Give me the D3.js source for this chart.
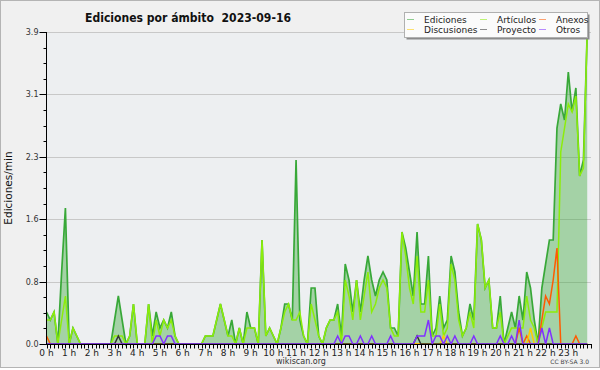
<!DOCTYPE html>
<html>
<head>
<meta charset="utf-8">
<script src="https://cdn.jsdelivr.net/npm/d3@7"></script>
<style>
  body { margin: 0; background: #ffffff; }
  svg { display: block; font-family: "DejaVu Sans", sans-serif; }
</style>
</head>
<body>
<svg id="chart" width="600" height="370"></svg>
<script>
// 10-minute slots over the day (144 per series), edits per minute
const hourLabels = d3.range(24).map(h => `${h} h`);
const yTicks = [0, 0.78, 1.56, 2.34, 3.12, 3.9];

const ediciones = [
  0.4,0.3,0.4,0,0.9,1.7,0,0.2,0.1,0, 0,0,0,0,0,0,0,0,0.3,0.6,
  0.3,0,0.1,0.5,0,0,0,0.5,0.1,0.4, 0.2,0.3,0.2,0.4,0.1,0,0,0,0,0,
  0,0,0.1,0.1,0.1,0.3,0.5,0.3,0.1,0.3, 0,0.2,0,0.4,0.2,0.2,0,1.3,0.1,0.2,
  0.1,0,0.2,0.5,0.5,0.3,2.3,0.3,0.1,0, 0.7,0.7,0.1,0,0.2,0.3,0.3,0.5,0.1,1.0,
  0.8,0.4,0.8,0.4,0.8,1.1,0.8,0.6,0.8,0.9, 0.8,0.2,0.2,0.1,1.4,1.2,0.9,0.6,1.4,0.5,
  0.5,1.1,0.1,0.2,0.6,0.2,0.3,1.1,0.9,0.4, 0.1,0.2,0.5,0.3,1.5,1.3,0.7,0.8,0.2,0.2,
  0.6,0,0.2,0.4,0.2,0.6,0.3,0.9,0.7,0.3, 0,0.7,1.0,1.3,1.3,2.7,3.0,2.8,3.4,2.9,
  3.2,2.1,2.3,3.9
];
const articulos = [
  0.3,0.3,0.4,0,0.3,0.6,0,0.2,0.1,0, 0,0,0,0,0,0,0,0,0.1,0.1,
  0.1,0,0.1,0.5,0,0,0,0.5,0,0.3, 0.1,0.3,0.2,0.3,0.1,0,0,0,0,0,
  0,0,0.1,0.1,0.1,0.3,0.5,0.3,0.1,0.1, 0,0.2,0,0.2,0.2,0.2,0,1.3,0.1,0.2,
  0.1,0,0.2,0.4,0.5,0.3,0.3,0.4,0.1,0, 0.5,0.3,0.1,0,0.2,0.3,0.3,0.4,0,0.8,
  0.6,0.3,0.8,0.3,0.6,0.9,0.4,0.5,0.7,0.8, 0.7,0.2,0.1,0.1,1.4,1.1,0.7,0.5,1.1,0.4,
  0.4,0.8,0.1,0.1,0.5,0.1,0.2,1.0,0.8,0.3, 0.1,0.2,0.4,0.2,1.5,1.3,0.7,0.8,0.2,0.2,
  0.4,0,0.1,0.2,0.2,0.2,0.2,0.6,0.3,0.2, 0,0.2,0.4,0.4,0.4,0.4,2.4,2.7,3.0,2.9,
  3.1,2.1,2.2,3.9
];
const anexos = new Array(144).fill(0);
[[0,0.1],[125,0.2],[127,0.1],[131,0.3],[132,0.6],[133,0.5],[134,0.8],[135,1.2],[140,0.1]]
  .forEach(([i, v]) => { anexos[i] = v; });
const discusiones = new Array(144).fill(0);
[[105,0.1],[128,0.2]].forEach(([i, v]) => { discusiones[i] = v; });
const proyecto = new Array(144).fill(0);
[[19,0.1],[98,0.1]].forEach(([i, v]) => { proyecto[i] = v; });
const otros = new Array(144).fill(0);
[[29,0.1],[30,0.1],[32,0.1],[33,0.1],[77,0.1],[79,0.1],[80,0.1],[83,0.1],[86,0.1],[91,0.1],
 [98,0.1],[99,0.1],[100,0.1],[101,0.3],[103,0.1],[104,0.1],[106,0.1],[108,0.1],[113,0.1],
 [120,0.1],[123,0.1],[125,0.3],[131,0.2],[133,0.2]].forEach(([i, v]) => { otros[i] = v; });

const colors = {
  ediciones: '#38a838',
  articulos: '#8ced0a',
  anexos: '#ff5a00',
  discusiones: '#ffcc00',
  proyecto: '#333333',
  otros: '#8030ff'
};

const svg = d3.select('#chart');
const margin = { top: 32, right: 9, bottom: 26, left: 46 };
const W = 600, H = 370;
const plotW = W - margin.left - margin.right;
const plotH = H - margin.top - margin.bottom;

// background + frame
svg.append('rect').attr('x', 0.5).attr('y', 0.5).attr('width', W - 1).attr('height', H - 3)
  .attr('fill', '#f0f0f0').attr('stroke', '#b4b4b4');

const x = d3.scaleLinear().domain([0, 144]).range([margin.left + 0.5, margin.left + plotW]);
const y = d3.scaleLinear().domain([0, 3.9]).range([margin.top + plotH, margin.top]);

svg.append('rect')
  .attr('x', margin.left).attr('y', margin.top)
  .attr('width', plotW).attr('height', plotH)
  .attr('fill', '#edeff1');

// grid
svg.append('g').selectAll('line').data(yTicks.slice(1)).join('line')
  .attr('x1', margin.left).attr('x2', margin.left + plotW)
  .attr('y1', d => Math.round(y(d)) + 0.5).attr('y2', d => Math.round(y(d)) + 0.5)
  .attr('stroke', '#c8c8c8');

// series
const line = d3.line().x((d, i) => x(i)).y(d => y(d));
const area = d3.area().x((d, i) => x(i)).y0(y(0)).y1(d => y(d));

svg.append('path').datum(ediciones).attr('d', area)
  .attr('fill', colors.ediciones).attr('fill-opacity', 0.4);
svg.append('path').datum(ediciones).attr('d', line)
  .attr('fill', 'none').attr('stroke', colors.ediciones).attr('stroke-width', 1.7);

[['articulos', articulos], ['anexos', anexos], ['discusiones', discusiones],
 ['proyecto', proyecto], ['otros', otros]].forEach(([k, data]) => {
  svg.append('path').datum(data).attr('d', line)
    .attr('fill', 'none').attr('stroke', colors[k]).attr('stroke-width', 1.5);
});

// y axis
const yAxis = svg.append('g').attr('transform', `translate(${margin.left + 0.5},0)`);
yAxis.append('line').attr('y1', margin.top).attr('y2', margin.top + plotH).attr('stroke', '#000');
const yMinor = d3.range(0, 3.9001, 0.195);
yAxis.selectAll('.ymin').data(yMinor).join('line')
  .attr('x1', -3).attr('x2', 0)
  .attr('y1', d => Math.round(y(d)) + 0.5).attr('y2', d => Math.round(y(d)) + 0.5)
  .attr('stroke', '#000');
yAxis.selectAll('.ymaj').data(yTicks).join('line')
  .attr('x1', -7).attr('x2', 0)
  .attr('y1', d => Math.round(y(d)) + 0.5).attr('y2', d => Math.round(y(d)) + 0.5)
  .attr('stroke', '#000');
yAxis.selectAll('text').data(yTicks).join('text')
  .attr('x', -8).attr('y', d => y(d) + 3)
  .attr('text-anchor', 'end').attr('font-size', 8).attr('fill', '#333')
  .text(d => d.toFixed(1));

// x axis
const xAxis = svg.append('g').attr('transform', `translate(0,${margin.top + plotH + 0.5})`);
xAxis.append('line').attr('x1', margin.left).attr('x2', margin.left + plotW + 1).attr('stroke', '#000');
xAxis.selectAll('.xmin').data(d3.range(0, 145)).join('line')
  .attr('x1', d => Math.round(x(d)) + 0.5).attr('x2', d => Math.round(x(d)) + 0.5)
  .attr('y1', 0).attr('y2', 4).attr('stroke', '#000');
xAxis.selectAll('text').data(hourLabels).join('text')
  .attr('x', (d, i) => x(i * 6)).attr('y', 11)
  .attr('text-anchor', 'middle').attr('font-size', 9).attr('fill', '#222')
  .text(d => d);

// titles
svg.append('text').attr('x', 85).attr('y', 22)
  .style('white-space', 'pre')
  .attr('font-weight', 'bold').attr('font-size', 12.5).attr('fill', '#111')
  .attr('textLength', 206).attr('lengthAdjust', 'spacingAndGlyphs')
  .text('Ediciones por ámbito  2023-09-16');

svg.append('text')
  .attr('transform', `translate(12,${margin.top + plotH / 2}) rotate(-90)`)
  .attr('text-anchor', 'middle').attr('font-size', 10.5).attr('fill', '#111')
  .text('Ediciones/min');

svg.append('text').attr('x', 301).attr('y', 364)
  .attr('text-anchor', 'middle').attr('font-size', 8).attr('fill', '#333')
  .text('wikiscan.org');
svg.append('text').attr('x', 589).attr('y', 364)
  .attr('text-anchor', 'end').attr('font-size', 6).attr('fill', '#444')
  .text('CC BY-SA 3.0');

// legend
const legendItems = [
  { label: 'Ediciones', key: 'ediciones', col: 0, row: 0 },
  { label: 'Discusiones', key: 'discusiones', col: 0, row: 1 },
  { label: 'Artículos', key: 'articulos', col: 1, row: 0 },
  { label: 'Proyecto', key: 'proyecto', col: 1, row: 1 },
  { label: 'Anexos', key: 'anexos', col: 2, row: 0 },
  { label: 'Otros', key: 'otros', col: 2, row: 1 }
];
const colX = [407, 480, 539];
const lg = svg.append('g');
lg.append('rect').attr('x', 406.5).attr('y', 14.5).attr('width', 183).attr('height', 25).attr('fill', '#8c8c8c');
lg.append('rect').attr('x', 404.5).attr('y', 12.5).attr('width', 183).attr('height', 25)
  .attr('fill', '#fbfbfb').attr('stroke', '#b0b0b0');
legendItems.forEach(d => {
  const ly = 19.5 + d.row * 10;
  lg.append('line').attr('x1', colX[d.col]).attr('x2', colX[d.col] + 7)
    .attr('y1', ly).attr('y2', ly)
    .attr('stroke', colors[d.key]).attr('stroke-opacity', 0.55).attr('stroke-width', 1);
  lg.append('text').attr('x', colX[d.col] + 17).attr('y', ly + 3)
    .attr('font-size', 9).attr('fill', '#222').text(d.label);
});
</script>
</body>
</html>
